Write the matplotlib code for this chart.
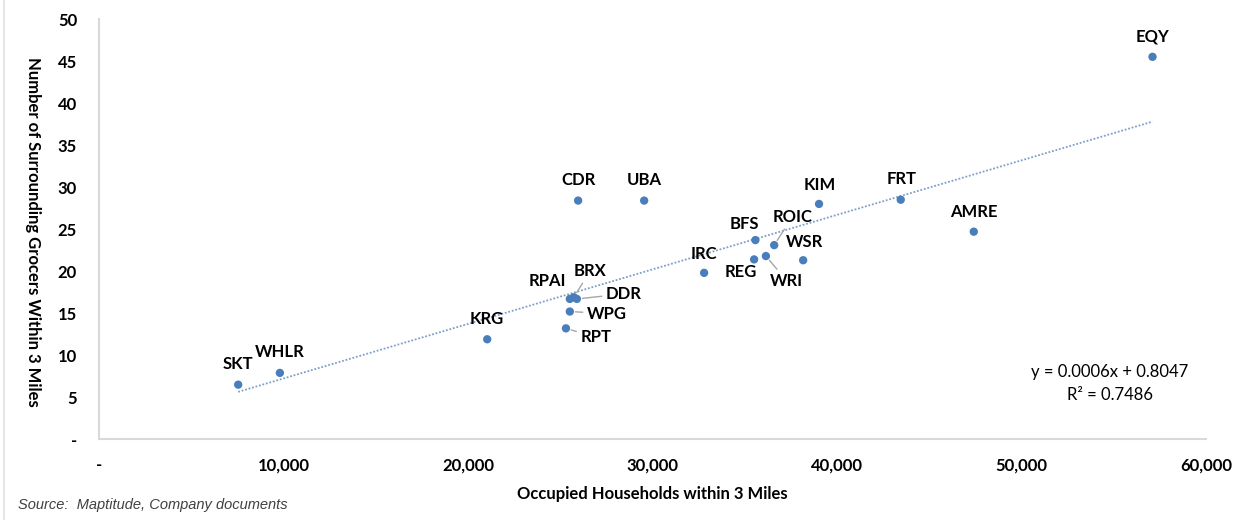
import numpy as np
import matplotlib
matplotlib.use('Agg')
import matplotlib.pyplot as plt
from matplotlib.lines import Line2D
from matplotlib.ticker import FuncFormatter, MultipleLocator

# REIT tickers with occupied households and grocers within 3 miles
tickers = ['SKT', 'WHLR', 'KRG', 'RPAI', 'BRX', 'DDR', 'WPG', 'RPT', 'CDR', 'UBA',
           'IRC', 'REG', 'BFS', 'WRI', 'ROIC', 'WSR', 'KIM', 'FRT', 'AMRE', 'EQY']
households = [7530, 9790, 21030, 25510, 25730, 25890, 25510, 25300, 25960, 29540,
              32790, 35500, 35570, 36140, 36590, 38160, 39020, 43450, 47410, 57100]
grocers = [6.5, 7.9, 11.9, 16.7, 16.9, 16.7, 15.2, 13.2, 28.4, 28.4,
           19.8, 21.4, 23.7, 21.8, 23.1, 21.3, 28.0, 28.5, 24.7, 45.5]

eq_text = 'y = 0.0006x + 0.8047'
r2_text = 'R\u00b2 = 0.7486'

# label offsets from the dot, in pixels (dx, dy); True = draw leader line
label_pos = {
    'SKT': (0, 21, False), 'WHLR': (0, 21, False), 'KRG': (0, 20, False),
    'RPAI': (-22, 18, False), 'BRX': (16, 26, True), 'DDR': (47, 5, True),
    'WPG': (37, -2, True), 'RPT': (30, -9, True), 'CDR': (0, 21, False),
    'UBA': (0, 21, False), 'IRC': (0, 19, False), 'REG': (-13, -13, False),
    'BFS': (-11, 16, False), 'WRI': (21, -25, True), 'ROIC': (18, 28, True),
    'WSR': (1, 18, False), 'KIM': (1, 19, False), 'FRT': (1, 21, False),
    'AMRE': (0, 20, False), 'EQY': (0, 20, False),
}

W, H = 1253, 520
blue = '#4a7ebb'
font = 'Lato'

fig = plt.figure(figsize=(W / 100, H / 100), dpi=100)
ax = fig.add_axes([99.3 / W, 1 - 439.3 / H, (1206 - 99.3) / W, (439.3 - 19) / H])

x = np.array(households, dtype=float)
y = np.array(grocers, dtype=float)

# linear trendline over the data range
k, b = np.polyfit(x, y, 1)
xt = np.array([x.min(), x.max()])
ax.plot(xt, k * xt + b, color='#7f9fc8', lw=1.3, linestyle=(0, (1, 1)), zorder=2)

ax.scatter(x, y, s=36, color=blue, edgecolors='none', zorder=3)

for name, xv, yv in zip(tickers, households, grocers):
    dx, dy, leader = label_pos[name]
    props = None
    if leader:
        props = dict(arrowstyle='-', color='#a6a6a6', lw=1.0, shrinkA=1, shrinkB=4)
    ax.annotate(name, (xv, yv), xytext=(dx, dy), textcoords='offset pixels',
                ha='center', va='center', fontsize=12, fontweight='bold',
                family=font, color='#000000', arrowprops=props, zorder=4)

ax.set_xlim(0, 60000)
ax.set_ylim(0, 50)
ax.xaxis.set_major_locator(MultipleLocator(10000))
ax.yaxis.set_major_locator(MultipleLocator(5))
ax.xaxis.set_major_formatter(FuncFormatter(lambda v, p: '-' if v == 0 else f'{v:,.0f}'))
ax.yaxis.set_major_formatter(FuncFormatter(lambda v, p: '-' if v == 0 else f'{v:.0f}'))
ax.tick_params(axis='both', length=0, labelsize=12)
ax.tick_params(axis='y', pad=16)
ax.tick_params(axis='x', pad=13)
for lab in ax.get_xticklabels() + ax.get_yticklabels():
    lab.set_fontweight('bold')
    lab.set_family(font)

for side in ['top', 'right']:
    ax.spines[side].set_visible(False)
for side in ['left', 'bottom']:
    ax.spines[side].set_color('#d9d9d9')
    ax.spines[side].set_linewidth(1.5)

fig.text(33 / W, 1 - 231.5 / H, 'Number of Surrounding Grocers Within 3 Miles',
         rotation=270, ha='center', va='center', fontsize=12, fontweight='bold', family=font)
fig.text(652.5 / W, 1 - 494 / H, 'Occupied Households within 3 Miles',
         ha='center', va='center', fontsize=12, fontweight='bold', family=font)
fig.text(18 / W, 1 - 505 / H, 'Source:  Maptitude, Company documents',
         ha='left', va='center', fontsize=10.5, style='italic',
         family='Liberation Sans', color='#404040')

fig.text(1110 / W, 1 - 372.5 / H, eq_text, ha='center', va='center', fontsize=12, family=font)
fig.text(1110 / W, 1 - 395 / H, r2_text, ha='center', va='center', fontsize=12, family=font)

fig.add_artist(Line2D([3.5 / W, 3.5 / W], [0, 1], transform=fig.transFigure,
                      color='#e0e0e0', lw=1.2))

fig.savefig('out.png', dpi=100)
